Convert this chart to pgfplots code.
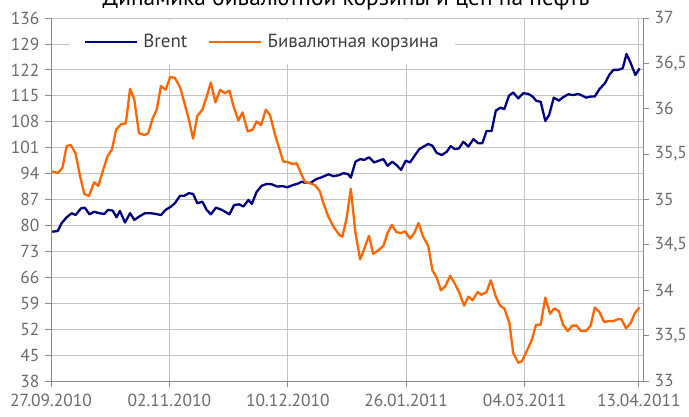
\documentclass[border=0pt]{standalone}
\usepackage{pgfplots}
\pgfplotsset{compat=1.18}
\usepackage{fontspec}
\setmainfont{PT Sans}
\definecolor{brent}{HTML}{000080}
\definecolor{basket}{HTML}{FF6600}
\definecolor{gridc}{HTML}{C4C4C4}
\definecolor{axc}{HTML}{8A8A8A}
\definecolor{lab}{HTML}{6A6A6A}
\begin{document}
\begin{tikzpicture}[x=1bp,y=1bp]
\pgfplotsset{
  base/.style={
    scale only axis, width=592bp, height=363bp,
    xmin=0, xmax=140,
    xtick={0,28,56,84,112,139},
    tick align=outside,
    major tick length=6bp,
    axis line style={axc, line width=0.8bp},
    tick style={axc, line width=0.8bp},
    ticklabel style={font=\fontsize{17.5}{17.5}\selectfont, text=lab},
    /pgf/number format/assume math mode=true,
  }
}
\begin{axis}[base,
  axis x line*=bottom, axis y line*=left,
  ymin=38, ymax=136, ytick={38,45,...,136},
  xticklabels={27.09.2010,02.11.2010,10.12.2010,26.01.2011,04.03.2011,13.04.2011},
  xmajorgrids, ymajorgrids, grid style={gridc, line width=0.8bp},
  xticklabel style={yshift=-4bp},
  yticklabel style={xshift=-2bp},
]
\addplot[brent, line width=2.3bp, line join=round] coordinates {
(0.3,78.3)(1.6,78.5)(2.5,80.6)(3.7,82.2)(4.9,83.3)(5.8,82.8)(7.1,84.6)(8.0,84.8)(9.1,83.0)(10.2,83.7)(11.4,83.3)(12.6,83.1)(13.5,84.2)(14.6,84.0)(15.5,82.2)(16.3,83.9)(17.5,80.8)(18.7,83.3)(19.7,81.5)(21.0,82.5)(22.2,83.3)(23.6,83.3)(24.8,83.1)(26.0,82.8)(27.1,84.2)(28.4,85.1)(29.3,86.0)(30.5,88.0)(31.5,88.0)(32.6,88.7)(33.6,88.5)(34.6,86.0)(35.8,86.4)(36.8,84.2)(37.8,83.0)(39.0,84.8)(40.4,84.2)(42.2,83.0)(43.3,85.5)(44.5,85.7)(45.5,85.1)(46.7,86.9)(47.5,85.8)(48.6,89.0)(49.8,90.7)(51.0,91.2)(52.2,91.1)(53.5,90.5)(54.8,90.6)(55.9,90.3)(57.2,90.9)(58.2,91.2)(59.3,91.8)(60.1,91.5)(61.4,91.5)(62.7,92.5)(64.0,93.0)(65.6,93.8)(66.8,93.3)(68.2,93.6)(69.1,94.1)(70.2,93.9)(70.9,92.9)(72.0,97.2)(73.1,97.9)(74.1,97.7)(75.2,98.4)(76.4,97.0)(77.6,97.5)(78.6,97.9)(79.6,96.1)(80.7,97.2)(81.7,96.3)(82.8,95.0)(83.9,97.5)(84.9,97.0)(86.1,99.0)(87.1,100.6)(88.3,101.4)(89.2,102.0)(90.2,101.5)(91.2,99.6)(92.4,99.0)(93.6,99.9)(94.5,101.4)(95.5,100.6)(96.5,100.8)(97.5,102.6)(98.7,101.3)(99.9,103.3)(101.0,102.2)(102.0,102.2)(103.0,105.5)(104.2,105.5)(105.2,111.0)(106.3,111.8)(107.2,111.4)(108.3,115.0)(109.3,115.9)(110.5,114.3)(111.7,115.7)(112.9,115.5)(113.9,114.8)(114.8,113.6)(115.8,113.4)(116.9,108.2)(117.8,109.8)(118.9,114.5)(120.1,113.7)(121.1,114.6)(122.3,115.4)(123.5,115.2)(124.7,115.5)(125.7,115.0)(126.5,114.5)(127.7,114.8)(128.6,114.8)(129.7,116.8)(131.0,118.4)(132.0,120.6)(133.0,122.0)(134.1,122.0)(135.2,122.4)(136.1,126.3)(137.1,123.8)(138.2,120.6)(139.2,122.4)
};
\end{axis}
\begin{axis}[base,
  axis x line=none, axis y line*=right,
  ymin=33, ymax=37, ytick={33,33.5,34,34.5,35,35.5,36,36.5,37},
  /pgf/number format/use comma,
  yticklabel style={xshift=2bp},
  legend columns=2,
  legend style={at={(0.032,0.934)}, anchor=west, fill=white, draw=none,
    inner xsep=14bp, inner ysep=13bp,
    font=\fontsize{19}{19}\selectfont, text=black!75,
    /tikz/every odd column/.append style={column sep=3bp},
    /tikz/every even column/.append style={column sep=19bp}},
  legend image code/.code={\draw[#1] (0bp,0bp) -- (52bp,0bp);},
]
\addlegendimage{brent, line width=2.3bp}
\addlegendentry{Brent}
\addplot[basket, line width=2.3bp, line join=round] coordinates {
(0.3,35.31)(1.6,35.29)(2.7,35.35)(3.7,35.59)(4.7,35.60)(5.8,35.51)(6.9,35.25)(7.9,35.06)(9.0,35.04)(10.2,35.19)(11.2,35.15)(12.1,35.29)(13.3,35.47)(14.4,35.55)(15.4,35.77)(16.6,35.83)(17.7,35.84)(18.7,36.22)(19.7,36.10)(20.8,35.73)(22.1,35.71)(23.0,35.73)(24.0,35.89)(25.0,35.99)(26.0,36.25)(27.1,36.21)(28.2,36.35)(29.3,36.34)(30.5,36.24)(31.7,36.04)(32.6,35.88)(33.6,35.67)(34.6,35.92)(35.8,35.99)(36.8,36.13)(37.8,36.29)(38.9,36.07)(40.0,36.21)(41.1,36.17)(42.2,36.20)(43.1,36.04)(44.3,35.87)(45.3,35.96)(46.5,35.75)(47.7,35.77)(48.6,35.86)(49.7,35.82)(50.8,35.99)(51.8,35.93)(53.0,35.71)(54.0,35.56)(54.9,35.42)(56.1,35.41)(57.2,35.39)(58.1,35.40)(59.1,35.29)(60.1,35.19)(61.2,35.18)(62.4,35.16)(63.6,35.09)(64.4,34.96)(65.6,34.81)(66.8,34.70)(68.2,34.61)(68.9,34.59)(69.9,34.79)(70.9,35.12)(72.0,34.63)(73.1,34.34)(74.1,34.46)(75.2,34.60)(76.2,34.40)(77.4,34.44)(78.6,34.49)(79.6,34.63)(80.6,34.72)(81.7,34.64)(82.8,34.63)(83.7,34.65)(84.9,34.57)(85.9,34.63)(86.9,34.74)(88.0,34.59)(89.2,34.49)(90.2,34.22)(91.2,34.14)(92.2,34.00)(93.2,34.04)(94.4,34.16)(95.4,34.08)(96.5,33.98)(97.7,33.83)(98.7,33.93)(99.7,33.89)(100.9,33.98)(101.8,33.95)(103.0,33.98)(104.0,34.11)(105.2,33.93)(106.2,33.83)(107.2,33.80)(108.4,33.64)(109.3,33.31)(110.5,33.20)(111.4,33.22)(112.5,33.33)(113.7,33.45)(114.7,33.62)(115.8,33.62)(116.9,33.92)(118.0,33.74)(119.0,33.80)(120.1,33.77)(121.1,33.62)(122.2,33.55)(123.3,33.61)(124.3,33.61)(125.3,33.55)(126.5,33.55)(127.6,33.61)(128.6,33.81)(129.7,33.76)(130.8,33.65)(132.0,33.66)(133.0,33.66)(134.0,33.68)(134.9,33.68)(136.0,33.58)(137.1,33.64)(138.1,33.75)(139.2,33.81)
};
\addlegendentry{Бивалютная корзина}
\end{axis}
\node[anchor=base] at (295bp,375bp) {\fontsize{23.5}{23.5}\selectfont Динамика бивалютной корзины и цен на нефть};
\pgfresetboundingbox
\useasboundingbox (-51bp,-36bp) rectangle (638bp,381bp);
\end{tikzpicture}
\end{document}
